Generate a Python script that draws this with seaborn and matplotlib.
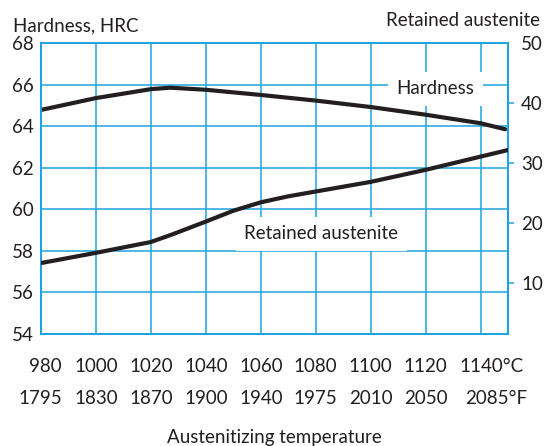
import matplotlib.pyplot as plt
import matplotlib.transforms as mtransforms
import seaborn as sns

# --- Data ---
temp_hardness = [980, 1000, 1020, 1027, 1040, 1060, 1080, 1100, 1120, 1140, 1149]
hardness = [64.78, 65.35, 65.78, 65.85, 65.75, 65.5, 65.23, 64.92, 64.55, 64.14, 63.85]

temp_austenite = [980, 1000, 1020, 1028, 1040, 1050, 1060, 1070, 1080, 1100, 1120, 1140, 1150]
retained_austenite = [13.4, 15.1, 16.9, 18.2, 20.3, 22.1, 23.5, 24.5, 25.3, 26.9, 28.9, 31.1, 32.2]

celsius_ticks = [980, 1000, 1020, 1040, 1060, 1080, 1100, 1120, 1140]
fahrenheit_labels = ["1795", "1830", "1870", "1900", "1940", "1975", "2010", "2050", "2085"]
hrc_ticks = [54, 56, 58, 60, 62, 64, 66, 68]
ra_ticks = [10, 20, 30, 40, 50]

BLUE = "#1ea4e0"
INK = "#231f20"
FS = 13.5

sns.set_theme(style="white")
plt.rcParams["font.family"] = ["Lato", "DejaVu Sans"]
plt.rcParams["text.color"] = INK

fig = plt.figure(figsize=(5.51, 4.46), dpi=100)
ax = fig.add_axes([41 / 551, 1 - 334 / 446, 467 / 551, 291 / 446])
ax2 = ax.twinx()

# ============================================================
# Curves
# ============================================================
sns.lineplot(x=temp_hardness, y=hardness, ax=ax, color=INK, lw=3, zorder=3)
sns.lineplot(x=temp_austenite, y=retained_austenite, ax=ax2, color=INK, lw=3, zorder=3)

ax.set_xlim(980, 1150)
ax.set_ylim(54, 68)
ax2.set_ylim(1.6, 50)

# grid on the HRC axis
ax.set_xticks(celsius_ticks)
ax.set_xticklabels([])
ax.set_yticks(hrc_ticks)
ax.set_yticklabels([str(t) for t in hrc_ticks], fontsize=FS, color=INK)
ax.tick_params(axis="both", length=0)
ax.tick_params(axis="y", pad=5.5)
ax.grid(True, color=BLUE, lw=1.1)
ax.set_axisbelow(True)

ax2.set_yticks(ra_ticks)
ax2.set_yticklabels([str(t) for t in ra_ticks], fontsize=FS, color=INK)
ax2.tick_params(axis="y", length=4.5, width=1.1, color=BLUE, pad=5)
ax2.yaxis.get_major_ticks()[-1].tick2line.set_visible(False)
ax2.grid(False)

for a in (ax, ax2):
    for s in a.spines.values():
        s.set_color(BLUE)
        s.set_linewidth(1.3)
    a.set_xlabel("")
    a.set_ylabel("")

# ============================================================
# Curve labels with white boxes over the grid
# ============================================================
box = dict(boxstyle="square,pad=0.45", fc="white", ec="none")
ax.text(1123.5, 65.8, "Hardness", fontsize=FS, ha="center", va="center",
        bbox=box, zorder=4)
ax2.text(1082, 18.3, "Retained austenite", fontsize=FS, ha="center", va="center",
         bbox=box, zorder=4)

# ============================================================
# Two rows of temperature labels
# ============================================================
trans = mtransforms.blended_transform_factory(ax.transData, ax.transAxes)
last = len(celsius_ticks) - 1
for i, (c, f) in enumerate(zip(celsius_ticks, fahrenheit_labels)):
    if i == last:
        ax.annotate(f"{c}°C", xy=(c, 0), xycoords=trans, xytext=(-21, -32),
                    textcoords="offset pixels", ha="left", va="center", fontsize=FS)
        ax.annotate(f"{f}°F", xy=(c, 0), xycoords=trans, xytext=(-15, -64),
                    textcoords="offset pixels", ha="left", va="center", fontsize=FS)
    else:
        dx = 4 if i == 0 else 0
        ax.annotate(str(c), xy=(c, 0), xycoords=trans, xytext=(dx, -32),
                    textcoords="offset pixels", ha="center", va="center", fontsize=FS)
        ax.annotate(f, xy=(c, 0), xycoords=trans, xytext=(-1 if i == 0 else 0, -64),
                    textcoords="offset pixels", ha="center", va="center", fontsize=FS)

# axis titles
fig.text(13 / 551, 1 - 31 / 446, "Hardness, HRC", fontsize=FS, ha="left", va="baseline")
fig.text(540 / 551, 1 - 26 / 446, "Retained austenite", fontsize=FS, ha="right", va="baseline")
fig.text(274 / 551, 1 - 437 / 446, "Austenitizing temperature", fontsize=FS,
         ha="center", va="center")

fig.savefig("out.png", dpi=100)
